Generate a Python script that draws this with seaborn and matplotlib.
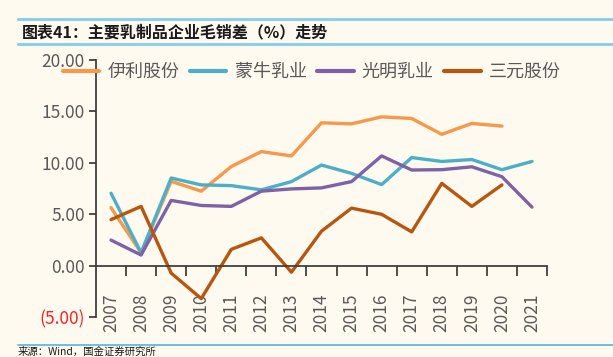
import numpy as np
import pandas as pd
import matplotlib
matplotlib.use("Agg")
import matplotlib.pyplot as plt
import seaborn as sns
from matplotlib.lines import Line2D

years = [str(y) for y in range(2007, 2022)]
companies = ["伊利股份", "蒙牛乳业", "光明乳业", "三元股份"]
yili = [5.63, 1.25, 8.20, 7.24, 9.64, 11.09, 10.67, 13.89, 13.79, 14.47, 14.31, 12.77, 13.83, 13.57, np.nan]
mengniu = [7.04, 1.25, 8.52, 7.85, 7.78, 7.37, 8.17, 9.78, 8.97, 7.88, 10.51, 10.13, 10.32, 9.33, 10.13]
guangming = [2.48, 1.03, 6.34, 5.85, 5.76, 7.24, 7.46, 7.56, 8.17, 10.67, 9.30, 9.33, 9.61, 8.65, 5.69]
sanyuan = [4.47, 5.76, -0.73, -3.21, 1.58, 2.70, -0.64, 3.35, 5.59, 4.99, 3.28, 8.00, 5.76, 7.85, np.nan]
ytick_vals = [-5, 0, 5, 10, 15, 20]
ytick_labels = ["(5.00)", "0.00", "5.00", "10.00", "15.00", "20.00"]
colors = ["#F7984A", "#4BAFC8", "#7F62A6", "#B8560F"]

bg = "#FEFAF0"
sns.set_theme(style="white")
plt.rcParams["font.family"] = ["Noto Sans CJK SC", "DejaVu Sans"]

rows = []
for name, vals in zip(companies, [yili, mengniu, guangming, sanyuan]):
    for i, v in enumerate(vals):
        rows.append({"pos": i, "year": years[i], "company": name, "value": v})
df = pd.DataFrame(rows)

fig = plt.figure(figsize=(6.13, 3.57), dpi=100, facecolor=bg)
ax = fig.add_axes([96 / 613, 1 - 317 / 357, 451 / 613, 257 / 357])
ax.set_facecolor(bg)

sns.lineplot(data=df, x="pos", y="value", hue="company", hue_order=companies,
             palette=colors, linewidth=2.4, ax=ax, legend=False, sort=False)

ax.set_xlim(-0.5, len(years) - 0.5)
ax.set_ylim(-5, 20)
ax.set_xlabel("")
ax.set_ylabel("")

# spines
for s in ["top", "right"]:
    ax.spines[s].set_visible(False)
ax.spines["bottom"].set_position(("data", 0))
ax.spines["bottom"].set_color("#404040")
ax.spines["left"].set_color("#404040")
ax.spines["bottom"].set_linewidth(1.3)
ax.spines["left"].set_linewidth(1.3)

# x ticks: labels at centers, tick marks at boundaries
ax.set_xticks(range(len(years)))
ax.set_xticklabels(years, rotation=90, fontsize=12.5, color="#595959")
ax.tick_params(axis="x", which="major", length=0, pad=20)
ax.set_xticks(np.arange(0.5, len(years), 1), minor=True)
ax.tick_params(axis="x", which="minor", length=7, width=1.3, color="#404040",
               direction="out", bottom=True)
for lab in ax.get_xticklabels():
    lab.set_va("top")

ax.set_yticks(ytick_vals)
ax.set_yticklabels(ytick_labels, fontsize=12.5, color="#595959")
ax.tick_params(axis="y", length=5, width=1.3, color="#404040", direction="out", pad=3, left=True)
ax.get_yticklabels()[0].set_color("#FF2020")

# legend
handles = [Line2D([0], [0], color=c, lw=3) for c in colors]
fig.legend(handles, companies, loc="center", bbox_to_anchor=(312 / 613, 1 - 72 / 357),
           ncol=4, frameon=False, fontsize=13, handlelength=2.0, handletextpad=0.45,
           columnspacing=0.6, labelcolor="#595959")

# title bars
fig.add_artist(Line2D([18 / 613, 1], [1 - 19 / 357, 1 - 19 / 357], color="#8ECFE8", lw=2.2))
fig.add_artist(Line2D([18 / 613, 1], [1 - 44 / 357, 1 - 44 / 357], color="#8ECFE8", lw=2.2))
fig.text(22 / 613, 1 - 32 / 357, "图表41：主要乳制品企业毛销差（%）走势", fontsize=11.5,
         fontweight="bold", style="italic", va="center", ha="left", color="#1a1a1a")

fig.add_artist(Line2D([18 / 613, 1], [1 - 345 / 357, 1 - 345 / 357], color="#4DB6E6", lw=1.2))
fig.text(18 / 613, 0.5 / 357, "来源：Wind，国金证券研究所", fontsize=7.5, va="bottom", ha="left",
         color="#1a1a1a")

fig.savefig("out.png", dpi=100, facecolor=bg)
